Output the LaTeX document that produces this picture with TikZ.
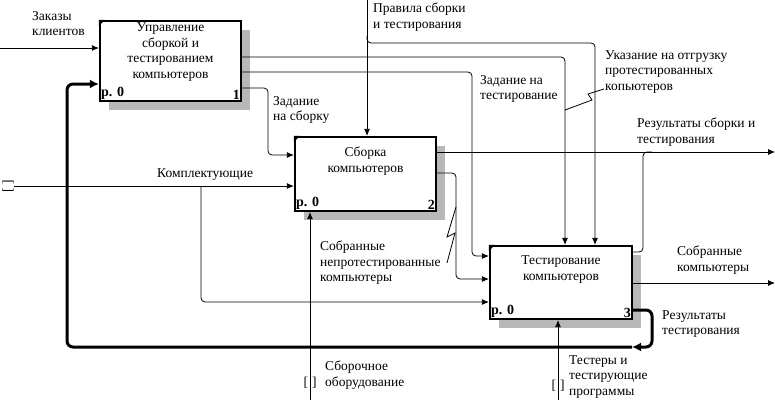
\documentclass[tikz,border=0pt]{standalone}
\usepackage{fontspec}
\setmainfont{Liberation Serif}
\usetikzlibrary{arrows.meta,positioning,shadows}

\begin{document}
\begin{tikzpicture}[
    x=1pt, y=-1pt,
    font=\fontsize{13.5}{15.5}\selectfont,
    func/.style={rectangle, draw, line width=2.2pt, fill=white, minimum width=141pt,
        drop shadow={shadow xshift=9pt, shadow yshift=-9pt, opacity=1, fill=black!28}},
    boxtext/.style={align=center, inner sep=0pt},
    num/.style={font=\fontsize{14}{15}\selectfont\bfseries, inner sep=2pt},
    txt/.style={align=left, anchor=north west, inner sep=0pt},
    line/.style={line width=0.8pt, rounded corners=4pt},
    arr/.style={line, -{Latex[length=7pt,width=6pt]}},
    fb/.style={line width=3pt, rounded corners=6pt, -{Latex[length=9pt,width=9pt]}}
]
\useasboundingbox (0,0) rectangle (775,405);

% Function blocks
\node [func, minimum height=80pt,
    label={[num, anchor=south west]south west:р. 0},
    label={[num, anchor=south east]south east:1}] (b1) at (170.5,61) {};
\node [func, minimum height=74pt,
    label={[num, anchor=south west]south west:р. 0},
    label={[num, anchor=south east]south east:2}] (b2) at (365.5,174) {};
\node [func, minimum width=142pt, minimum height=73pt,
    label={[num, anchor=south west]south west:р. 0},
    label={[num, anchor=south east]south east:3}] (b3) at (561,282.5) {};

\node [boxtext, below=3pt of b1.north] (t1) {Управление\\сборкой и\\тестированием\\компьютеров};
\node [boxtext, below=11pt of b2.north] (t2) {Сборка\\компьютеров};
\node [boxtext, below=11pt of b3.north] (t3) {Тестирование\\компьютеров};

\foreach \b in {b1,b2,b3}
    \fill (\b.north west) -- ++(6,0) -- ++(-6,6) -- cycle;

% Inputs
\coordinate (orders) at (0,48);
\draw [arr] (orders) -- (orders -| b1.west);
\coordinate (parts) at (14,186);
\draw [arr] (parts) -- (parts -| b2.west);
\draw [arr] (201,186) -- (201,302) -- (b3.west |- 0,302);

% Controls
\coordinate (rules) at (367,0);
\draw [arr] (rules) -- (rules |- b2.north);
\draw [arr] (367,36) |- (595,43) -- (b3.north -| 595,0);

% Outputs of block 1
\draw [arr] (b1.east |- 0,57) -- (565,57) -- (b3.north -| 565,0);
\draw [arr] (b1.east |- 0,72) -- (472,72) -- (472,256) -- (b3.west |- 0,256);
\draw [arr] (b1.east |- 0,88) -- (268,88) -- (268,155) -- (b2.west |- 0,155);

% Outputs of block 2
\coordinate (results) at (775,152);
\draw [arr] (b2.east |- results) -- (results);
\draw [line] (b3.east |- 0,252) -- (643,252) -- (643,152) -- (652,152);
\draw [arr] (b2.east |- 0,173) -- (456,173) -- (456,279) -- (b3.west |- 0,279);

% Outputs of block 3
\coordinate (done) at (775,283);
\draw [arr] (b3.east |- done) -- (done);
\coordinate (fbturn) at (632,347);
\draw [fb] (b3.east |- 0,310) -- (652,310) -- (652,347) -- (fbturn);
\draw [fb] (fbturn) -- (67,347) -- (67,84) -- (b1.west |- 0,84);

% Mechanisms
\coordinate (equip) at (310,400);
\draw [arr] (equip) -- (equip |- b2.south);
\coordinate (testers) at (558,400);
\draw [arr] (testers) -- (testers |- b3.south);

% Tunnels
\node [rotate=90] (tun1) at (8,186) {[\hspace{4pt}]};
\node (tun2) at (310,383) {[\hspace{4pt}]};
\node (tun3) at (558,386) {[\hspace{4pt}]};

% Squiggles
\draw [line, rounded corners=0pt] (604,89) -- (588,94) -- (592,100) -- (565,110);
\draw [line, rounded corners=0pt] (456,207) -- (447,237) -- (455,233) -- (447,263);

% Labels
\node [txt] (l_orders) at (32,11) {Заказы\\клиентов};
\node [txt] (l_rules) at (373,3) {Правила сборки\\и тестирования};
\node [txt] (l_asm) at (273,96) {Задание\\на сборку};
\node [txt] (l_test) at (480,75) {Задание на\\тестирование};
\node [txt] (l_ship) at (605,50) {Указание на отгрузку\\протестированных\\копьютеров};
\node [txt] (l_res) at (637,118) {Результаты сборки и\\тестирования};
\node [txt] (l_parts) at (157,168) {Комплектующие};
\node [txt] (l_unt) at (320,241) {Собранные\\непротестированные\\компьютеры};
\node [txt] (l_done) at (677,246) {Собранные\\компьютеры};
\node [txt] (l_tres) at (662,310) {Результаты\\тестирования};
\node [txt] (l_equip) at (325,361) {Сборочное\\оборудование};
\node [txt] (l_testers) at (569,355) {Тестеры и\\тестирующие\\программы};

\end{tikzpicture}
\end{document}
